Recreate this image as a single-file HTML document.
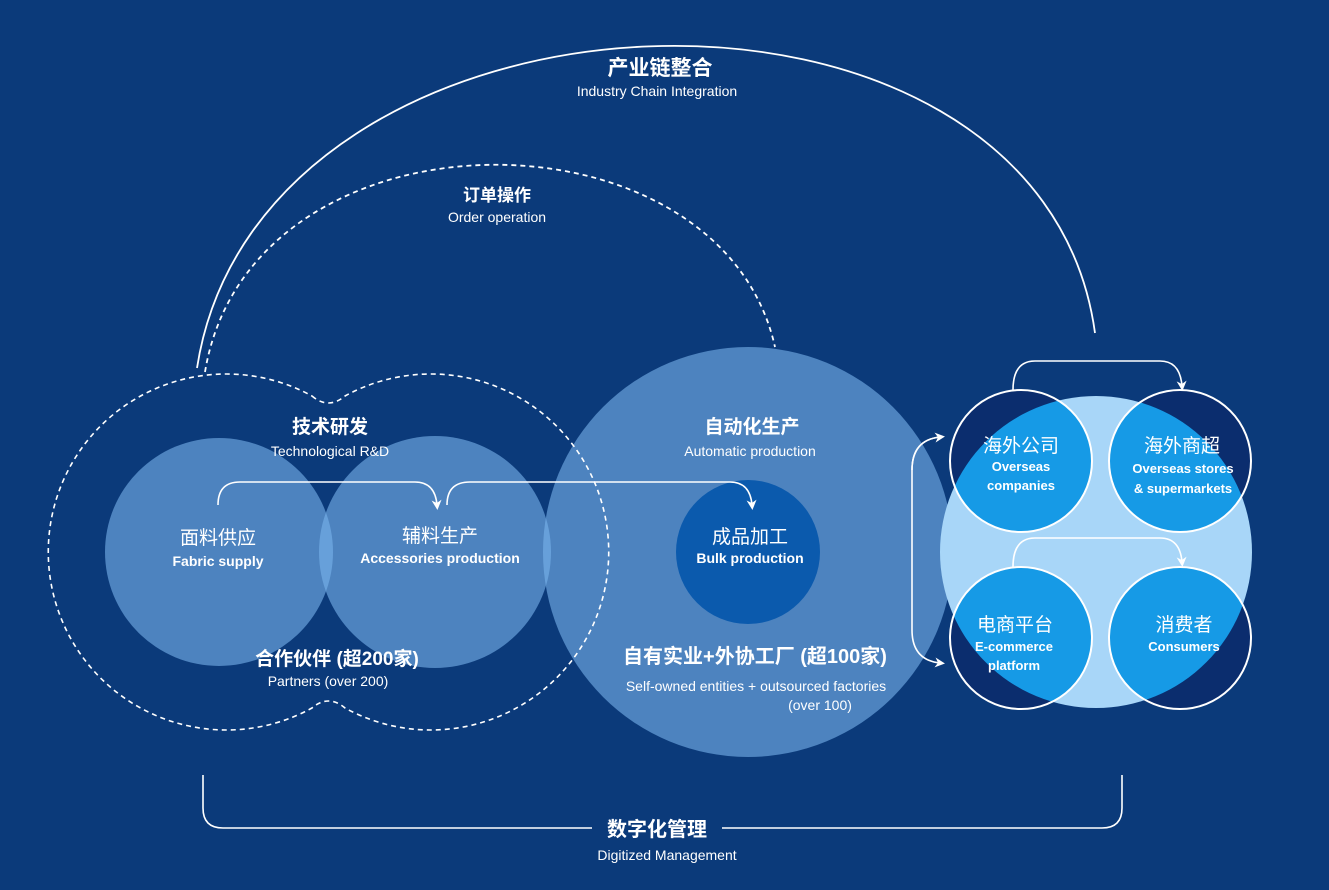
<!DOCTYPE html>
<html><head><meta charset="utf-8"><style>
html,body{margin:0;padding:0;background:#0b3a7a;}
svg{display:block;}
text{font-family:"Liberation Sans","Noto Sans CJK SC",sans-serif;fill:#fff;text-anchor:middle;}
.b{font-weight:bold;}
</style></head><body>
<svg width="1329" height="890" viewBox="0 0 1329 890" xmlns="http://www.w3.org/2000/svg">
<defs>
<marker id="ah" markerWidth="10" markerHeight="10" refX="5" refY="5" orient="auto" markerUnits="userSpaceOnUse">
<path d="M0,0 L10,5 L0,10 L3,5 Z" fill="#fff"/>
</marker>
<clipPath id="bigc"><circle cx="1096" cy="552" r="156"/></clipPath>
</defs>
<rect width="1329" height="890" fill="#0b3a7a"/>

<path d="M197,368 C260,-40 1040,-70 1095,333" fill="none" stroke="#fff" stroke-width="1.8"/>
<path d="M205,372 C250,100 720,100 775,347" fill="none" stroke="#fff" stroke-width="1.8" stroke-dasharray="5,4"/>

<circle cx="748" cy="552" r="205" fill="#7ab4ec" fill-opacity="0.6"/>
<circle cx="219" cy="552" r="114" fill="#7ab4ec" fill-opacity="0.6"/>
<circle cx="435" cy="552" r="116" fill="#7ab4ec" fill-opacity="0.6"/>
<circle cx="748" cy="552" r="72" fill="#0b5aad"/>

<path d="M312,396 Q328.5,410 345,396 A178,178 0 1 1 345,708 Q328.5,694 312,708 A178,178 0 1 1 312,396 Z" fill="none" stroke="#fff" stroke-width="1.6" stroke-dasharray="5,4"/>

<circle cx="1096" cy="552" r="156" fill="#a8d6f8"/>
<g>
<circle cx="1021" cy="461" r="71" fill="#0b2d6e"/>
<circle cx="1180" cy="461" r="71" fill="#0b2d6e"/>
<circle cx="1021" cy="638" r="71" fill="#0b2d6e"/>
<circle cx="1180" cy="638" r="71" fill="#0b2d6e"/>
</g>
<g clip-path="url(#bigc)" fill="#169ae6">
<circle cx="1021" cy="461" r="71"/>
<circle cx="1180" cy="461" r="71"/>
<circle cx="1021" cy="638" r="71"/>
<circle cx="1180" cy="638" r="71"/>
</g>
<g fill="none" stroke="#fff" stroke-width="2">
<circle cx="1021" cy="461" r="71"/>
<circle cx="1180" cy="461" r="71"/>
<circle cx="1021" cy="638" r="71"/>
<circle cx="1180" cy="638" r="71"/>
</g>

<g fill="none" stroke="#fff" stroke-width="1.6">
<path d="M218,505 Q218,482 240,482 L415,482 Q435,482 437,505" marker-end="url(#ah)"/>
<path d="M447,505 Q447,482 470,482 L730,482 Q750,482 752,505" marker-end="url(#ah)"/>
<path d="M1013,390 Q1013,361 1035,361 L1160,361 Q1180,361 1182,386" marker-end="url(#ah)"/>
<path d="M1013,567 Q1013,538 1035,538 L1160,538 Q1180,538 1182,562" marker-end="url(#ah)"/>
<path d="M940,437 Q912,440 912,470 L912,630 Q912,660 940,663" marker-end="url(#ah)"/>
<path d="M912,470 Q912,440 940,437" marker-end="url(#ah)"/>
<path d="M203,775 L203,808 Q203,828 223,828 L592,828"/>
<path d="M722,828 L1102,828 Q1122,828 1122,808 L1122,775"/>
</g>

<text x="660" y="75" class="b" font-size="21">产业链整合</text>
<text x="657" y="96" font-size="14">Industry Chain Integration</text>
<text x="497" y="201" class="b" font-size="17">订单操作</text>
<text x="497" y="222" font-size="14">Order operation</text>

<text x="330" y="433" class="b" font-size="19">技术研发</text>
<text x="330" y="456" font-size="14">Technological R&amp;D</text>
<text x="218" y="544" font-size="19">面料供应</text>
<text x="218" y="566" font-size="14" class="b">Fabric supply</text>
<text x="440" y="542" font-size="19">辅料生产</text>
<text x="440" y="563" font-size="14" class="b">Accessories production</text>
<text x="337" y="665" class="b" font-size="19">合作伙伴 (超200家)</text>
<text x="328" y="686" font-size="14">Partners (over 200)</text>

<text x="752" y="433" class="b" font-size="19">自动化生产</text>
<text x="750" y="456" font-size="14">Automatic production</text>
<text x="750" y="543" font-size="19">成品加工</text>
<text x="750" y="563" font-size="14" class="b">Bulk production</text>
<text x="755" y="663" class="b" font-size="20">自有实业+外协工厂 (超100家)</text>
<text x="756" y="691" font-size="14">Self-owned entities + outsourced factories</text>
<text x="820" y="710" font-size="14">(over 100)</text>

<text x="1021" y="452" font-size="19">海外公司</text>
<text x="1021" y="471" font-size="13" class="b">Overseas</text>
<text x="1021" y="490" font-size="13" class="b">companies</text>
<text x="1182" y="452" font-size="19">海外商超</text>
<text x="1183" y="473" font-size="13" class="b">Overseas stores</text>
<text x="1183" y="493" font-size="13" class="b">&amp; supermarkets</text>
<text x="1015" y="631" font-size="19">电商平台</text>
<text x="1014" y="651" font-size="13" class="b">E-commerce</text>
<text x="1014" y="670" font-size="13" class="b">platform</text>
<text x="1184" y="631" font-size="19">消费者</text>
<text x="1184" y="651" font-size="13" class="b">Consumers</text>

<text x="657" y="836" class="b" font-size="20">数字化管理</text>
<text x="667" y="860" font-size="14">Digitized Management</text>
</svg>
</body></html>
